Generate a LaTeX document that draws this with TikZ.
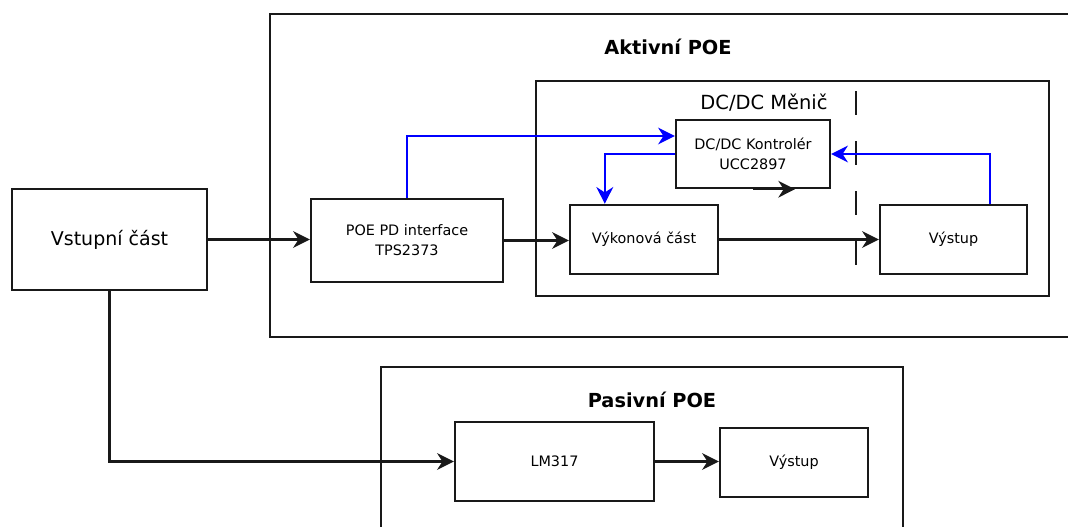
\documentclass[tikz,border=0pt]{standalone}
\usepackage{fontspec}
\setmainfont{DejaVu Sans}
\usetikzlibrary{arrows.meta,calc}
\begin{document}
\begin{tikzpicture}[x=0.75pt,y=-0.75pt,
  box/.style={draw=black!90,line width=1.8pt,rectangle,inner sep=0pt,align=center,
    font=\fontsize{10.8pt}{15pt}\selectfont},
  frame/.style={draw=black!90,line width=1.8pt,rectangle,inner sep=0pt},
  ttl/.style={font=\fontsize{14.5pt}{17pt}\selectfont\bfseries,inner sep=0pt},
  conn/.style={line width=1.8pt,draw=black!90,-{Stealth[length=12.5pt,width=12.5pt,inset=4pt]}},
  fb/.style={line width=1.8pt,draw=blue,-{Stealth[length=12.5pt,width=12.5pt,inset=4pt]}},
  sep/.style={line width=1.8pt,draw=black!90,dash pattern=on 18pt off 19.5pt}
]
\useasboundingbox (0,0) rectangle (1068,526);
\fill[white] (0,0) rectangle (1068,526);

% containers
\node[frame,minimum width=615pt,minimum height=242.25pt] (aktiv) at (680,175.5) {};
\node[frame,minimum width=384.75pt,minimum height=161.25pt] (dcdc) at (792.5,188.5) {};
\node[frame,minimum width=391.5pt,minimum height=129.75pt] (pasiv) at (642,453.5) {};

% titles
\node[ttl] (taktiv) at (668,47) {Aktivní POE};
\node[ttl] (tpasiv) at (652,400) {Pasivní POE};
\node[inner sep=0pt,font=\fontsize{14.6pt}{17pt}\selectfont] (tdcdc) at (764,103) {DC/DC Měnič};

% blocks
\node[box,minimum width=146.25pt,minimum height=75.75pt,font=\fontsize{14.25pt}{17pt}\selectfont] (vst) at (109.5,239.5) {Vstupní část};
\node[box,minimum width=144pt,minimum height=62.25pt] (poe) at (407,240.5) {POE PD interface\\TPS2373};
\node[box,minimum width=115.5pt,minimum height=51pt] (kon) at (753,154) {DC/DC Kontrolér\\UCC2897};
\node[box,minimum width=111pt,minimum height=51.75pt] (vyk) at (644,239.5) {Výkonová část};
\node[box,minimum width=110.25pt,minimum height=51.75pt] (vys1) at (953.5,239.5) {Výstup};
\node[box,minimum width=149.25pt,minimum height=59.25pt] (lm) at (554.5,461.5) {LM317};
\node[box,minimum width=111pt,minimum height=51.75pt] (vys2) at (794,462.5) {Výstup};

% separator
\coordinate (sepT) at (856,91);
\coordinate (sepB) at (856,270);
\draw[sep] (sepT) -- (sepB);

% connectors
\draw[conn] (vst.east) -- (vst.east -| poe.west);
\draw[conn] (poe.east) -- (poe.east -| vyk.west);
\draw[conn] (vyk.east) -- (vys1.west);
\draw[conn] (kon.south) -- ++(42,0) coordinate (kontip);
\draw[conn] (vst.south) |- (lm.west);
\draw[conn] (lm.east) -- (lm.east -| vys2.west);

% feedback (blue)
\draw[fb] (poe.north) |- ($(kon.west)+(0,-18)$);
\draw[fb] (kon.west) -| ($(vyk.north west)+(36,0)$);
\draw[fb] ($(vys1.north)+(36.5,0)$) |- (kon.east);
\end{tikzpicture}
\end{document}
